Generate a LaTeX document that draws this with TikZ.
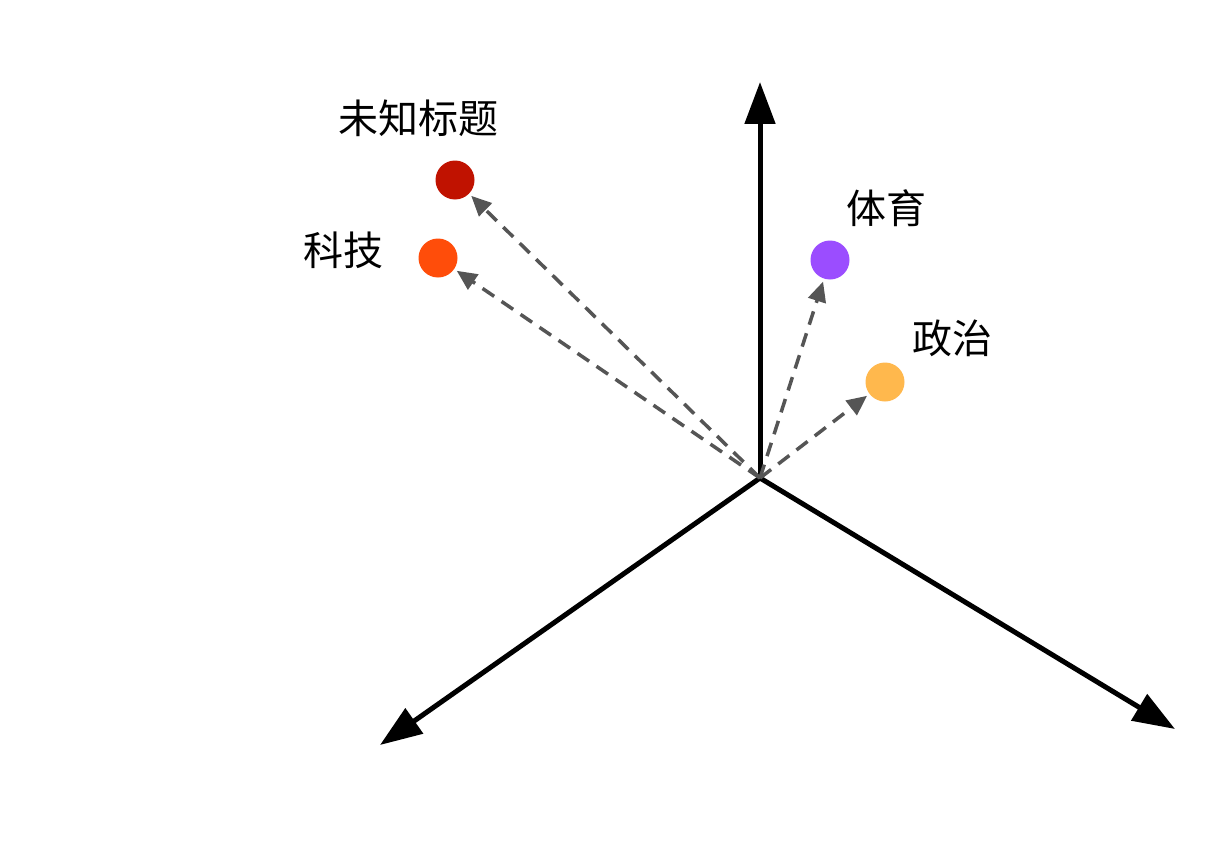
\documentclass[tikz,border=0pt]{standalone}
\usepackage{fontspec}
\newfontfamily\cjk{Noto Sans CJK SC}
\usetikzlibrary{arrows.meta}
\definecolor{cred}{HTML}{C01200}
\definecolor{corange}{HTML}{FF4D0A}
\definecolor{cpurple}{HTML}{9B4DFF}
\definecolor{cyellow}{HTML}{FFB84D}
\definecolor{cgray}{HTML}{555555}
\begin{document}
\begin{tikzpicture}[x=1pt,y=-1pt,
  axis/.style={line width=5pt,-{Triangle[length=42pt,width=30pt]}},
  vec/.style={cgray,line width=3.5pt,dash pattern=on 14pt off 9pt,-{Triangle[length=20pt,width=18pt]}},
  dot/.style={circle,inner sep=0pt,minimum size=39pt},
  lab/.style={font=\cjk\fontsize{40}{44}\selectfont}]
\useasboundingbox (0,0) rectangle (1217,864);
\fill[white] (0,0) rectangle (1217,864);
\coordinate (O) at (760,478);
\coordinate (Y) at (760,82);
\coordinate (L) at (380,745);
\coordinate (R) at (1175,729);
\draw[axis] (O) -- (Y);
\draw[axis] (O) -- (L);
\draw[axis] (O) -- (R);
\node[dot,fill=cred] (a) at (455,180) {};
\node[dot,fill=corange] (b) at (438,258) {};
\node[dot,fill=cpurple] (c) at (830,260) {};
\node[dot,fill=cyellow] (d) at (885,382) {};
\node[lab] (ta) at (418,118) {未知标题};
\node[lab] (tb) at (343,250) {科技};
\node[lab] (tc) at (886,208) {体育};
\node[lab] (td) at (952,338) {政治};
\draw[vec,shorten >=3pt] (O) -- (a);
\draw[vec,shorten >=3pt] (O) -- (b);
\draw[vec,shorten >=3pt] (O) -- (c);
\draw[vec,shorten >=3pt] (O) -- (d);
\end{tikzpicture}
\end{document}
